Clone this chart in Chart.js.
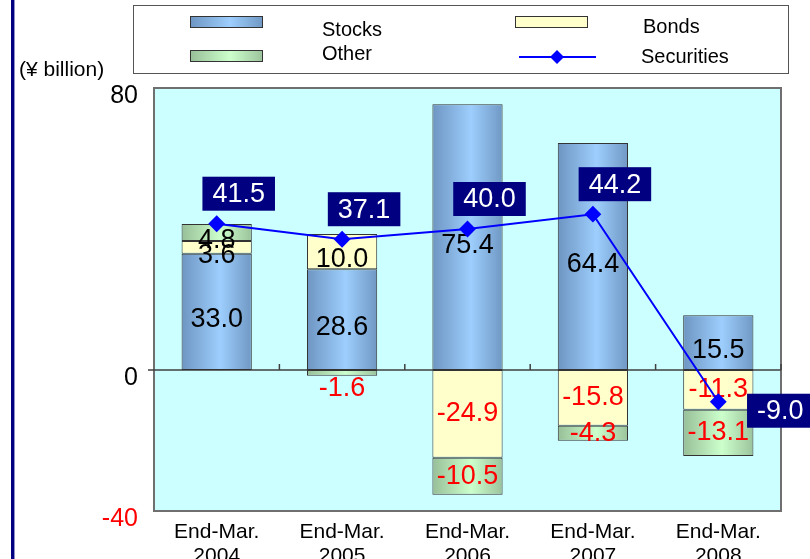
<!DOCTYPE html>
<html>
<head>
<meta charset="utf-8">
<script src="https://cdn.jsdelivr.net/npm/chart.js@4.4.1/dist/chart.umd.min.js"></script>
<style>
  html, body { margin: 0; padding: 0; background: #fff; }
  #wrap { width: 810px; height: 559px; }
</style>
</head>
<body>
<div id="wrap"><canvas id="secChart" width="810" height="559"></canvas></div>
<script>
const categories = [['End-Mar.', '2004'], ['End-Mar.', '2005'], ['End-Mar.', '2006'], ['End-Mar.', '2007'], ['End-Mar.', '2008']];
const stocks = [33.0, 28.6, 75.4, 64.4, 15.5];
const bonds = [3.6, 10.0, -24.9, -15.8, -11.3];
const other = [4.8, -1.6, -10.5, -4.3, -13.1];
const securities = [41.5, 37.1, 40.0, 44.2, -9.0];
const yTicks = [-40, 0, 80];

const FONT = "'Liberation Sans', Arial, sans-serif";
const BAR_PCT = 0.56;
const stockStops = ['#6E95C2', '#9DCEFD', '#7098C4'];
const otherStops = ['#98BF98', '#CCFFCC', '#9CC39C'];

function hGrad(ctx, x0, x1, stops) {
    const g = ctx.createLinearGradient(x0, 0, x1, 0);
    g.addColorStop(0, stops[0]);
    g.addColorStop(0.55, stops[1]);
    g.addColorStop(1, stops[2]);
    return g;
}

// gradient across each bar, left to right
function barFill(stops) {
    return function (c) {
        const chart = c.chart;
        const xs = chart.scales && chart.scales.x;
        if (!chart.chartArea || !xs || c.type !== 'data') return stops[1];
        const cx = xs.getPixelForValue(c.dataIndex);
        const half = (xs.width / categories.length) * BAR_PCT / 2;
        return hGrad(chart.ctx, cx - half, cx + half, stops);
    };
}

// plot background, left rule, zero line
const backdrop = {
    id: 'backdrop',
    beforeDatasetsDraw(chart) {
        const { ctx, chartArea: a } = chart;
        ctx.save();
        ctx.fillStyle = '#000080';
        ctx.fillRect(11, 0, 3, chart.height);
        ctx.fillStyle = '#9090C8';
        ctx.fillRect(14, 0, 1, chart.height);
        ctx.fillStyle = '#CCFFFF';
        ctx.fillRect(a.left, a.top, a.right - a.left, a.bottom - a.top);
        ctx.strokeStyle = '#6F6F6F';
        ctx.lineWidth = 2;
        ctx.strokeRect(a.left, a.top, a.right - a.left, a.bottom - a.top);
        const y0 = chart.scales.y.getPixelForValue(0);
        ctx.strokeStyle = '#404040';
        ctx.lineWidth = 1.5;
        ctx.beginPath();
        ctx.moveTo(a.left - 6, y0);
        ctx.lineTo(a.right, y0);
        const step = (a.right - a.left) / categories.length;
        for (let i = 1; i <= categories.length; i++) {
            const x = a.left + i * step;
            ctx.moveTo(x, y0);
            ctx.lineTo(x, y0 - 6);
        }
        ctx.stroke();
        ctx.restore();
    }
};

// numbers inside the bar segments: drawn once all bars are down, before the line
const barValues = {
    id: 'barValues',
    beforeDatasetDraw(chart, args) {
        if (chart.data.datasets[args.index].type !== 'line') return;
        const ctx = chart.ctx;
        ctx.save();
        ctx.font = '27px ' + FONT;
        ctx.textAlign = 'center';
        ctx.textBaseline = 'middle';
        chart.data.datasets.forEach((ds, di) => {
            if (ds.type === 'line') return;
            chart.getDatasetMeta(di).data.forEach((bar, i) => {
                const v = ds.data[i];
                const top = Math.min(bar.y, bar.base);
                const bot = Math.max(bar.y, bar.base);
                let y = (top + bot) / 2;
                if (bot - top < 8) {
                    y = v < 0 ? bot + 13 : top - 13;
                } else if (v > 0) {
                    y += 8;
                }
                ctx.fillStyle = v < 0 ? '#FF0000' : '#000000';
                ctx.fillText(v.toFixed(1), bar.x, y);
            });
        });
        ctx.restore();
    }
};

// navy boxes for the securities total
const totalBoxes = {
    id: 'totalBoxes',
    afterDatasetsDraw(chart) {
        const ctx = chart.ctx;
        const idx = chart.data.datasets.findIndex(d => d.type === 'line');
        const meta = chart.getDatasetMeta(idx);
        ctx.save();
        ctx.font = '27px ' + FONT;
        ctx.textAlign = 'center';
        ctx.textBaseline = 'middle';
        meta.data.forEach((pt, i) => {
            const v = securities[i];
            const cx = v >= 0 ? pt.x + 22 : pt.x + 62;
            const cy = v >= 0 ? pt.y - 30 : pt.y + 9;
            const txt = v.toFixed(1);
            const w = ctx.measureText(txt).width + 20;
            const h = 34;
            ctx.fillStyle = '#000080';
            ctx.fillRect(cx - w / 2, cy - h / 2, w, h);
            ctx.fillStyle = '#FFFFFF';
            ctx.fillText(txt, cx, cy + 1);
        });
        ctx.restore();
    }
};

// two-column legend in a box, plus the unit label
const boxLegend = {
    id: 'boxLegend',
    afterDraw(chart) {
        const ctx = chart.ctx;
        ctx.save();
        ctx.strokeStyle = '#555555';
        ctx.lineWidth = 1;
        ctx.strokeRect(133.5, 5.5, 655, 68);

        ctx.font = '21px ' + FONT;
        ctx.fillStyle = '#000';
        ctx.textBaseline = 'middle';
        ctx.textAlign = 'left';
        ctx.fillText('(\u00A5 billion)', 19, 70);

        ctx.font = '20px ' + FONT;
        const sw = (x, y, fill) => {
            ctx.fillStyle = fill;
            ctx.fillRect(x, y, 73, 12);
            ctx.strokeStyle = '#333';
            ctx.strokeRect(x + 0.5, y + 0.5, 72, 11);
        };
        sw(190, 16, hGrad(ctx, 190, 263, stockStops));
        sw(515, 16, '#FFFFCC');
        sw(190, 50, hGrad(ctx, 190, 263, otherStops));

        ctx.strokeStyle = '#0000FF';
        ctx.lineWidth = 2;
        ctx.beginPath();
        ctx.moveTo(519, 57);
        ctx.lineTo(596, 57);
        ctx.stroke();
        ctx.fillStyle = '#0000FF';
        ctx.beginPath();
        ctx.moveTo(557, 50); ctx.lineTo(564, 57); ctx.lineTo(557, 64); ctx.lineTo(550, 57);
        ctx.closePath();
        ctx.fill();

        ctx.fillStyle = '#000';
        ctx.fillText(chart.data.datasets[1].label, 322, 30);
        ctx.fillText(chart.data.datasets[2].label, 643, 27);
        ctx.fillText(chart.data.datasets[3].label, 322, 54);
        ctx.fillText(chart.data.datasets[0].label, 641, 57);
        ctx.restore();
    }
};

const ctx = document.getElementById('secChart').getContext('2d');
new Chart(ctx, {
    type: 'bar',
    data: {
        labels: categories,
        datasets: [
            {
                type: 'line',
                label: 'Securities',
                data: securities,
                stack: 'total',
                order: 0,
                borderColor: '#0000FF',
                backgroundColor: '#0000FF',
                borderWidth: 2,
                pointStyle: 'rectRot',
                pointRadius: 7,
                pointBackgroundColor: '#0000FF',
                pointBorderColor: '#0000FF',
                tension: 0
            },
            {
                label: 'Stocks',
                data: stocks,
                stack: 'parts',
                order: 1,
                backgroundColor: barFill(stockStops),
                borderColor: '#333333',
                borderWidth: 1,
                borderSkipped: false
            },
            {
                label: 'Bonds',
                data: bonds,
                stack: 'parts',
                order: 1,
                backgroundColor: '#FFFFCC',
                borderColor: '#333333',
                borderWidth: 1,
                borderSkipped: false
            },
            {
                label: 'Other',
                data: other,
                stack: 'parts',
                order: 1,
                backgroundColor: barFill(otherStops),
                borderColor: '#333333',
                borderWidth: 1,
                borderSkipped: false
            }
        ]
    },
    options: {
        responsive: false,
        animation: false,
        datasets: {
            bar: { categoryPercentage: 1, barPercentage: BAR_PCT }
        },
        layout: { padding: { top: 88, right: 29, bottom: 0, left: 0 } },
        plugins: {
            legend: { display: false },
            tooltip: { enabled: false }
        },
        scales: {
            x: {
                stacked: true,
                grid: { display: false, drawTicks: false },
                border: { display: false },
                afterFit: axis => { axis.height = 48; },
                ticks: {
                    color: '#000',
                    padding: 9,
                    font: { family: FONT, size: 21, lineHeight: 1.15 }
                }
            },
            y: {
                stacked: true,
                min: -40,
                max: 80,
                grid: { display: false, drawTicks: false },
                border: { display: false },
                afterFit: axis => { axis.width = 154; },
                afterBuildTicks: axis => { axis.ticks = yTicks.map(v => ({ value: v })); },
                ticks: {
                    padding: 16,
                    labelOffset: 8,
                    font: { family: FONT, size: 25 },
                    color: c => (c.tick && c.tick.value < 0 ? '#FF0000' : '#000000')
                }
            }
        }
    },
    plugins: [backdrop, barValues, totalBoxes, boxLegend]
});
</script>
</body>
</html>
